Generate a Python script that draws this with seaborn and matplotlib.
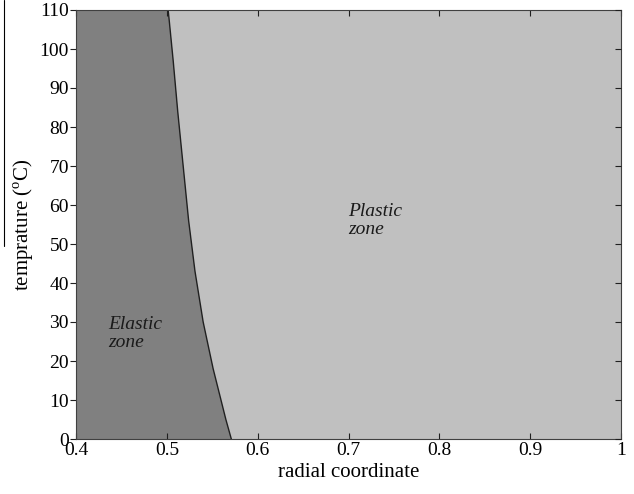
import matplotlib
matplotlib.use("Agg")
import matplotlib.pyplot as plt
import seaborn as sns
import pandas as pd
from matplotlib.lines import Line2D

# Data
temperature = [0, 5, 18, 30, 43, 56, 70, 84, 97, 110]
boundary_radius = [0.571, 0.565, 0.551, 0.540, 0.531, 0.524, 0.518, 0.512, 0.507, 0.5015]
x_min, x_max = 0.4, 1.0
x_ticks = [0.4, 0.5, 0.6, 0.7, 0.8, 0.9, 1.0]
x_tick_labels = ["0.4", "0.5", "0.6", "0.7", "0.8", "0.9", "1"]
y_ticks = list(range(0, 111, 10))

sns.set_theme(style="white")
plt.rcParams["font.family"] = ["Liberation Serif", "DejaVu Serif"]
plt.rcParams["mathtext.fontset"] = "custom"
plt.rcParams["mathtext.rm"] = "Liberation Serif"
plt.rcParams["text.color"] = "black"
plt.rcParams["axes.labelcolor"] = "black"

df = pd.DataFrame({"r": boundary_radius, "T": temperature})

fig = plt.figure(figsize=(6.34, 4.94), dpi=100)
ax = fig.add_axes([76/634, 55/494, 545/634, 429/494])
ax.set_axisbelow(False)

ax.fill_betweenx(df["T"], x_min, df["r"], color="#808080", linewidth=0)
ax.fill_betweenx(df["T"], df["r"], x_max, color="#c0c0c0", linewidth=0)
sns.lineplot(data=df, x="r", y="T", sort=False, estimator=None,
             color="#202020", linewidth=1.0, ax=ax)

ax.set_xlim(x_min, x_max)
ax.set_ylim(0, 110)
ax.set_xticks(x_ticks)
ax.set_xticklabels(x_tick_labels)
ax.set_yticks(y_ticks)
ax.tick_params(axis="x", direction="in", bottom=True, top=True,
               length=4, width=0.8, labelsize=14, colors="#202020",
               labelcolor="black", pad=2)
ax.tick_params(axis="y", direction="out", left=True, right=False,
               length=4, width=0.8, labelsize=14, colors="#202020",
               labelcolor="black", pad=1)
for s in ax.spines.values():
    s.set_color("#404040")
    s.set_linewidth(0.8)
    s.set_zorder(3)

# inward ticks on the right side
ax2 = ax.twinx()
ax2.set_axisbelow(False)
ax2.set_ylim(0, 110)
ax2.set_yticks(y_ticks)
ax2.tick_params(axis="y", direction="in", length=4, width=0.8,
                colors="#202020", right=True, left=False,
                labelright=False, labelleft=False)
for s in ax2.spines.values():
    s.set_visible(False)

ax.set_xlabel("radial coordinate", fontsize=15, labelpad=3)
ax.set_ylabel(r"temprature ($^{\rm o}$C)", fontsize=15, labelpad=3)

ax.text(0.435, 27, "Elastic\nzone", fontsize=14, style="italic",
        ha="left", va="center", linespacing=1.1, color="#1a1a1a")
ax.text(0.70, 56, "Plastic\nzone", fontsize=14, style="italic",
        ha="left", va="center", linespacing=1.1, color="#1a1a1a")

fig.add_artist(Line2D([4/634, 4/634], [1.0, 1 - 246/494], color="black",
                      linewidth=0.8, transform=fig.transFigure))

fig.savefig("out.png", dpi=100)
